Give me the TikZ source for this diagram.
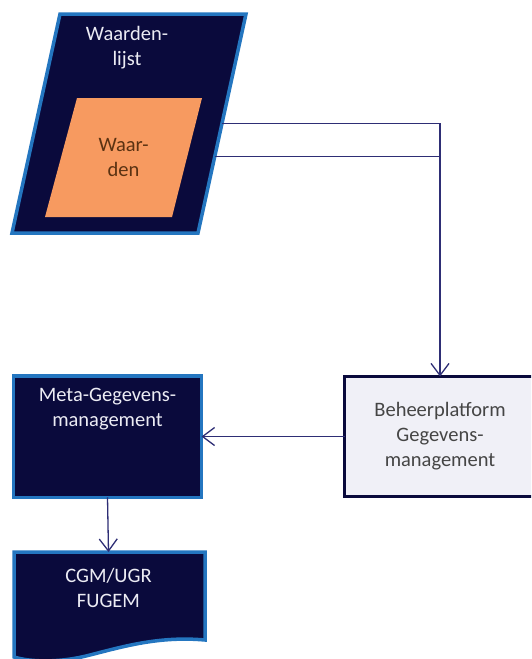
\documentclass[tikz,border=0pt]{standalone}
\usepackage{fontspec}
\setmainfont{Carlito}
\usetikzlibrary{arrows.meta,calc}

\definecolor{navy}{HTML}{0A0A3C}
\definecolor{lightblue}{HTML}{2476C0}
\definecolor{orangefill}{HTML}{F79A60}
\definecolor{palefill}{HTML}{F0F0F7}
\definecolor{linkcol}{HTML}{2E2E75}
\definecolor{softwhite}{HTML}{ECECF4}
\definecolor{brown}{HTML}{5A3212}
\definecolor{greytext}{HTML}{454545}

\begin{document}
\begin{tikzpicture}[x=1pt,y=-1pt,
  every node/.style={font=\fontsize{20.5}{25}\selectfont,align=center,outer sep=0pt},
  darkbox/.style={shape=rectangle,draw=lightblue,fill=navy,line width=3.5pt},
  link/.style={draw=linkcol,line width=1.3pt},
  arrow/.style={link,-{Straight Barb[length=12pt,width=18pt,line width=1.3pt]}}]

\useasboundingbox (0,0) rectangle (531,659);
\clip (0,0) rectangle (531,659);

% waardenlijst with waarden inside
\coordinate (wlTL) at (60,14);
\coordinate (wlTR) at (246,14);
\coordinate (wlBR) at (198,233);
\coordinate (wlBL) at (12,233);
\draw[lightblue,fill=navy,line width=3.5pt] (wlTL) -- (wlTR) -- (wlBR) -- (wlBL) -- cycle;
\node[text=softwhite] (wltxt) at (127,48) {Waarden-\\lijst};
\fill[orangefill] (77,98) -- (202,98) -- (172,217) -- (45,217) -- cycle;
\node[text=brown] (wd) at (123.5,157.5) {Waar-\\den};

% beheerplatform
\node[shape=rectangle,draw=navy,fill=palefill,line width=3.5pt,minimum width=191,minimum height=120,
  text=greytext] (beh) at (440,436.5) {Beheerplatform\\Gegevens-\\management};

% meta-gegevensmanagement
\node[darkbox,minimum width=188,minimum height=121.5] (meta) at (107.5,436.5) {};
\node[text=softwhite] (metatxt) at (107.5,409.5) {Meta-Gegevens-\\management};

% document
\coordinate (doctop) at (108.5,552);
\draw[lightblue,fill=navy,line width=3.5pt] (14,552) -- (205,552) -- (205,640)
  .. controls (160,636) and (125,646) .. (90,655)
  .. controls (60,663) and (30,662) .. (14,657) -- cycle;
\node[text=softwhite] (doc) at (108.5,587.5) {CGM/UGR\\FUGEM};

% connectors
\coordinate (p1) at ($(wlTR)!0.5!(wlBR)$);
\coordinate (p2) at ($(wlTR)!0.65!(wlBR)$);
\draw[arrow] (p1) -| (beh.north);
\draw[link] (p2) -- (p2 -| beh.north);
\draw[arrow] (beh.west) -- (meta.east);
\draw[arrow] (meta.south) -- (doctop);

\end{tikzpicture}
\end{document}
